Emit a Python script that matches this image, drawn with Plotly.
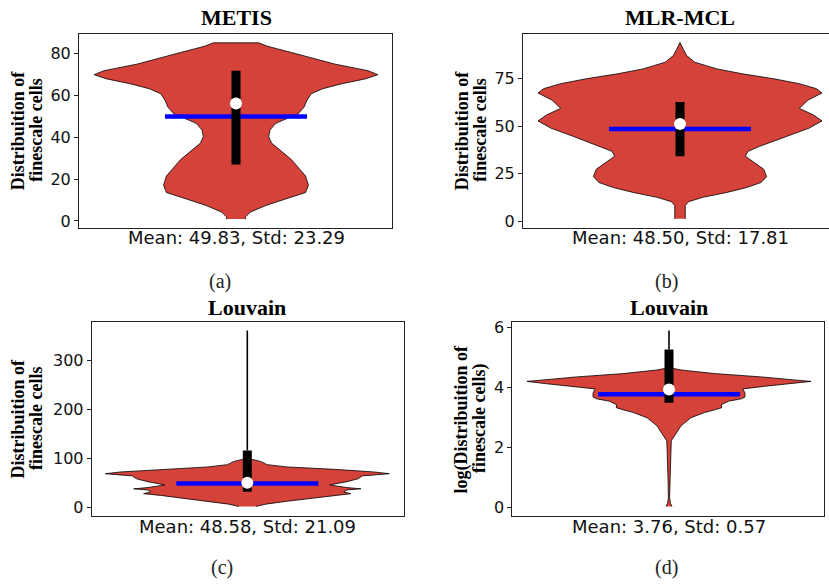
import plotly.graph_objects as go

W, H = 829, 585

# ---------------- data ----------------
titles = ["METIS", "MLR-MCL", "Louvain", "Louvain"]
ylabel_line1 = ["Distribuition of", "Distribuition of", "Distribuition of", "log(Distribuition of"]
ylabel_line2 = ["finescale cells", "finescale cells", "finescale cells", "finescale cells)"]
captions = ["(a)", "(b)", "(c)", "(d)"]
means = [49.83, 48.50, 48.58, 3.76]
stds = [23.29, 17.81, 21.09, 0.57]
medians = [56.0, 51.2, 50.0, 3.92]
q1s = [27.0, 34.2, 31.7, 3.48]
q3s = [71.7, 62.8, 116.0, 5.25]
whisker_tops = [None, None, 362.0, 5.89]
ytick_vals = [[0, 20, 40, 60, 80], [0, 25, 50, 75], [0, 100, 200, 300], [0, 2, 4, 6]]

# violin density profiles (value level, relative half-width)
metis_y = [0.9, 1.9, 4.2, 7.4, 10.5, 13.6, 17.1, 21.5, 24.6, 29.3, 33.3, 37.2, 40.3, 43.5,
           46.6, 51.3, 54.4, 57.6, 60.7, 63.1, 65.4, 67.8, 69.8, 71.7, 74.8, 78.0, 81.1, 83.4, 85.0]
metis_w = [0.066, 0.066, 0.10, 0.21, 0.35, 0.49, 0.51, 0.49, 0.45, 0.39, 0.32, 0.25, 0.23, 0.24,
           0.28, 0.44, 0.48, 0.50, 0.53, 0.61, 0.74, 0.91, 1.00, 0.93, 0.70, 0.53, 0.35, 0.22, 0.16]

mlr_y = [1.2, 8.2, 10.2, 12.5, 15.1, 17.7, 20.3, 23.4, 27.3, 30.7, 34.2, 36.8, 39.4, 44.6,
         49.0, 52.8, 55.9, 59.4, 63.7, 67.5, 69.8, 72.4, 75.0, 77.6, 80.2, 83.7, 87.2, 90.6, 94.1]
mlr_w = [0.037, 0.037, 0.06, 0.16, 0.33, 0.47, 0.57, 0.61, 0.59, 0.53, 0.46, 0.48, 0.56, 0.75,
         0.91, 1.00, 0.94, 0.84, 0.90, 1.00, 0.96, 0.84, 0.66, 0.44, 0.26, 0.105, 0.047, 0.023, 0.0]

louv_y = [1.3, 6.0, 12.0, 18.0, 24.0, 27.5, 31.0, 35.0, 37.5, 40.0, 45.5, 52.0, 58.0, 64.0,
          68.5, 72.1, 77.5, 82.3, 87.0, 93.7, 97.7]
louv_w = [0.06, 0.13, 0.28, 0.45, 0.61, 0.73, 0.68, 0.70, 0.80, 0.70, 0.58, 0.70, 0.78, 0.81,
          1.00, 0.89, 0.61, 0.28, 0.14, 0.094, 0.035]

logl_y = [0.02, 0.12, 0.30, 0.80, 1.40, 1.90, 2.21, 2.38, 2.71, 2.98, 3.15, 3.24, 3.31, 3.42,
          3.53, 3.61, 3.67, 3.80, 3.94, 4.03, 4.11, 4.19, 4.24, 4.30, 4.34, 4.45, 4.57, 4.63]
logl_w = [0.021, 0.011, 0.004, 0.006, 0.008, 0.013, 0.016, 0.040, 0.085, 0.155, 0.25, 0.32, 0.37, 0.37,
          0.42, 0.51, 0.535, 0.535, 0.52, 0.68, 0.86, 1.00, 0.88, 0.74, 0.65, 0.32, 0.085, 0.021]

profiles = [(metis_y, metis_w), (mlr_y, mlr_w), (louv_y, louv_w), (logl_y, logl_w)]

# ---------------- layout geometry (pixels) ----------------
K = 156.5            # px per x unit
VMAX = 142 / K       # max half-width of violin in x units
MHALF = 71 / K       # half-length of mean line
panels = [
    dict(x0=79, x1=392, y0=29, y1=226, c=236, yr=[-3.3, 89.4], mirror=True, ty=13.0, xl=236, cap=(220, 280), yl=(17.5, 36)),
    dict(x0=523, x1=829, y0=29, y1=226, c=680, yr=[-3.6, 98.8], mirror=False, ty=13.0, xl=236, cap=(666, 280), yl=(461.5, 480)),
    dict(x0=91.7, x1=404, y0=321.7, y1=517.7, c=247.3, yr=[-17.5, 379], mirror=True, ty=307.0, xl=529, cap=(222, 570), yl=(17.5, 36)),
    dict(x0=512.3, x1=824.3, y0=321.7, y1=517.7, c=669, yr=[-0.285, 6.16], mirror=True, ty=307.0, xl=529, cap=(666, 570), yl=(461.5, 480)),
]

FILL = "#d5423a"
AXC = "#222222"
fig = go.Figure()
annotations = []
layout = dict(width=W, height=H, margin=dict(l=0, r=0, t=0, b=0),
              paper_bgcolor="white", plot_bgcolor="white", showlegend=False)

for i, p in enumerate(panels):
    n = "" if i == 0 else str(i + 1)
    xa, ya = "x" + n, "y" + n
    ys, ws = profiles[i]
    vx = [w * VMAX for w in ws] + [-w * VMAX for w in reversed(ws)]
    vy = list(ys) + list(reversed(ys))
    fig.add_trace(go.Scatter(x=vx, y=vy, mode="lines", fill="toself", fillcolor=FILL,
                             line=dict(color="black", width=0.8), xaxis=xa, yaxis=ya, hoverinfo="skip"))
    fig.add_trace(go.Scatter(x=[-MHALF, MHALF], y=[means[i], means[i]], mode="lines",
                             line=dict(color="#0000ff", width=4.5), xaxis=xa, yaxis=ya))
    if whisker_tops[i] is not None:
        fig.add_trace(go.Scatter(x=[0, 0], y=[q3s[i], whisker_tops[i]], mode="lines",
                                 line=dict(color="black", width=1.6), xaxis=xa, yaxis=ya))
    fig.add_trace(go.Scatter(x=[0, 0], y=[q1s[i], q3s[i]], mode="lines",
                             line=dict(color="black", width=9), xaxis=xa, yaxis=ya))
    fig.add_trace(go.Scatter(x=[0], y=[medians[i]], mode="markers",
                             marker=dict(color="white", size=12, line=dict(width=0)), xaxis=xa, yaxis=ya))

    xr = [(p["x0"] - p["c"]) / K, (p["x1"] - p["c"]) / K]
    layout["xaxis" + n] = dict(domain=[p["x0"] / W, p["x1"] / W], range=xr, anchor=ya,
                               showgrid=False, zeroline=False, showticklabels=False, ticks="",
                               showline=True, linecolor=AXC, linewidth=1, mirror=True)
    layout["yaxis" + n] = dict(domain=[1 - p["y1"] / H, 1 - p["y0"] / H], range=p["yr"], anchor=xa,
                               showgrid=False, zeroline=False, tickvals=ytick_vals[i],
                               ticks="outside", ticklen=4, tickcolor=AXC, tickwidth=1,
                               tickfont=dict(family="DejaVu Sans", size=16, color="#111"),
                               showline=True, linecolor=AXC, linewidth=1, mirror=p["mirror"])

    annotations.append(dict(text=titles[i], x=0, xref=xa, y=1 - p["ty"] / H, yref="paper",
                            xanchor="center", yanchor="middle", showarrow=False,
                            font=dict(family="Liberation Serif", size=22, color="black", weight="bold")))
    annotations.append(dict(text=f"Mean: {means[i]:.2f}, Std: {stds[i]:.2f}", x=0, xref=xa,
                            y=1 - p["xl"] / H, yref="paper", xanchor="center", yanchor="middle",
                            showarrow=False, font=dict(family="DejaVu Sans", size=18, color="#111")))
    annotations.append(dict(text=captions[i], x=p["cap"][0] / W, xref="paper", y=1 - p["cap"][1] / H,
                            yref="paper", xanchor="center", yanchor="middle", showarrow=False,
                            font=dict(family="Liberation Serif", size=20, color="#222")))
    ymid = 1 - (p["y0"] + p["y1"]) / 2 / H
    for txt, xpx in zip([ylabel_line1[i], ylabel_line2[i]], p["yl"]):
        annotations.append(dict(text=txt, x=xpx / W, xref="paper", y=ymid, yref="paper",
                                xanchor="center", yanchor="middle", textangle=-90, showarrow=False,
                                font=dict(family="Liberation Serif", size=18, color="black", weight="bold")))

layout["annotations"] = annotations
fig.update_layout(**layout)
fig.write_html("out.html", config={"displayModeBar": False},
               post_script="document.body.style.margin='0px';document.body.style.overflow='hidden';")
